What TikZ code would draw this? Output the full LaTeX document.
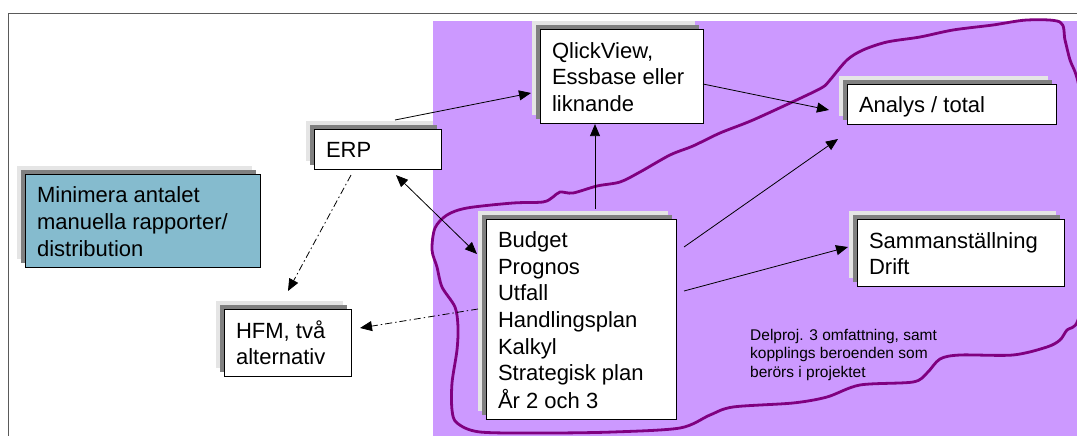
\documentclass[tikz,border=0pt]{standalone}
\usepackage{fontspec}
\setmainfont{Liberation Sans}
\usetikzlibrary{arrows.meta,shadows,calc}

\definecolor{panelpurple}{RGB}{204,153,255}
\definecolor{loopline}{RGB}{128,0,128}
\definecolor{shadelight}{RGB}{229,229,229}
\definecolor{shadedark}{RGB}{128,128,128}
\definecolor{goalblue}{RGB}{133,187,206}
\definecolor{framegray}{RGB}{90,90,90}

% left-aligned block of lines, set a little lower inside its box
\newcommand{\stackedlines}[2]{\makebox[#1][l]{\raisebox{-3pt}[\height][\depth]{\begin{tabular}{@{}l@{}}#2\end{tabular}}}}

\tikzset{
  card/.style={draw=black, line width=1.1pt, fill=white, anchor=north west,
    inner xsep=11.5pt, inner ysep=0pt, minimum height=#1,
    font=\fontsize{22}{26.67}\selectfont,
    copy shadow={shadow xshift=-9pt, shadow yshift=9pt, fill=shadelight, draw=none, opacity=1},
    copy shadow={shadow xshift=-4.5pt, shadow yshift=4.5pt, fill=shadedark, draw=none, opacity=1}},
  link/.style={line width=0.8pt, -{Triangle[length=12pt,width=10pt]}},
  twoway/.style={line width=0.8pt, {Triangle[length=12pt,width=10pt]}-{Triangle[length=12pt,width=10pt]}},
  dashlink/.style={link, dash pattern=on 7pt off 3pt on 1.5pt off 3pt},
}

\begin{document}
\begin{tikzpicture}[x=1pt, y=-1pt]
  \useasboundingbox (0,0) rectangle (1077,436);
  \fill[white] (0,0) rectangle (1077,436);

  % page frame and project area
  \draw[framegray, line width=1.3pt] (1077,13.5) -- (8.5,13.5) -- (8.5,436);
  \fill[panelpurple] (433,21) rectangle (1077,436);

  % hand-drawn scope outline
  \begin{scope}
    \clip (0,0) rectangle (1077,436);
    \draw[loopline, line width=2.8pt, line join=round] plot[smooth cycle, tension=0.5] coordinates {
      (432,250) (435,228) (447,215) (467,208) (513,203) (543,202) (553,197)
      (560,192) (573,193) (597,186) (620,182) (640,172) (670,155) (693,146)
      (720,133) (753,120) (803,97) (823,87) (830,80) (847,60) (863,50)
      (887,42) (920,37) (953,30) (993,25) (1027,20) (1060,22) (1065,40)
      (1070,60) (1078,82) (1090,150) (1090,260) (1078,320) (1067,330)
      (1060,340) (1047,347) (1013,355) (960,355) (940,359) (927,373)
      (913,382) (860,385) (827,397) (793,403) (733,407) (710,415) (680,428)
      (613,432) (547,433) (480,432) (457,423) (452,410) (452,383) (457,350)
      (458,327) (455,307) (442,287) (437,267)};
  \end{scope}

  % boxes
  \node[card=40pt] (erp) at (314,129) {\stackedlines{104pt}{ERP}};
  \node[card=94pt] (qv) at (540,29) {\stackedlines{140pt}{QlickView,\\Essbase eller\\liknande}};
  \node[card=40pt] (an) at (847,84) {\stackedlines{186pt}{Analys / total}};
  \node[card=67pt] (sam) at (857,219) {\stackedlines{184pt}{Sammanställning\\Drift}};
  \node[card=67pt] (hfm) at (224,309) {\stackedlines{104pt}{HFM, två\\alternativ}};
  \node[card=200pt] (bud) at (486,219) {\stackedlines{167pt}{Budget\\Prognos\\Utfall\\Handlingsplan\\Kalkyl\\Strategisk plan\\År 2 och 3}};
  \node[card=93pt, fill=goalblue] (mini) at (25,174) {\stackedlines{212pt}{Minimera antalet\\manuella rapporter/\\distribution}};

  % scope note
  \node[anchor=base west, inner sep=0pt, font=\fontsize{15.5}{18.5}\selectfont] (scopenote) at (750,340)
    {\begin{tabular}[t]{@{}l@{}}Delproj. 3 omfattning, samt\\kopplings beroenden som\\berörs i projektet\end{tabular}};

  % connectors
  \draw[link] ($(erp.north west)+(81,-9)$) -- ($(qv.north west)+(-9,64)$);
  \draw[link] ($(qv.north west)+(163,55)$) -- ($(an.north west)+(-18,26)$);
  \draw[link] ($(bud.north west)+(109,-10)$) -- ($(qv.south west)+(55,0)$);
  \draw[twoway] ($(erp.south west)+(82,5)$) -- ($(bud.north west)+(-9,35)$);
  \draw[link] ($(bud.north west)+(198,28)$) -- ($(an.north west)+(-9,55)$);
  \draw[link] ($(bud.north west)+(198,72)$) -- ($(sam.north west)+(-9,28)$);
  \draw[dashlink] ($(erp.south west)+(37,5)$) -- ($(hfm.north west)+(64,-18)$);
  \draw[dashlink] ($(bud.north west)+(-8,90)$) -- ($(hfm.north west)+(136,19)$);
\end{tikzpicture}
\end{document}
